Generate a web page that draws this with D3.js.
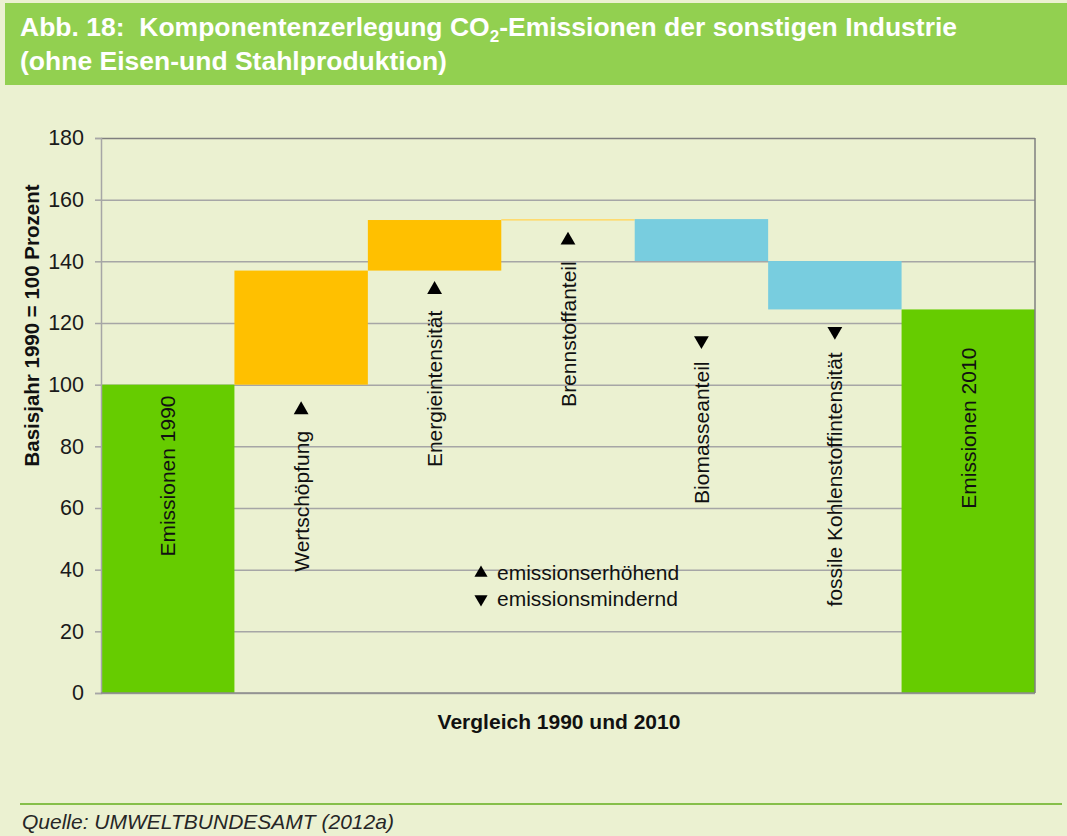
<!DOCTYPE html>
<html>
<head>
<meta charset="utf-8">
<script src="https://cdn.jsdelivr.net/npm/d3@7"></script>
<style>
  body { margin: 0; background: #ffffff; }
  svg { display: block; font-family: "Liberation Sans", Arial, sans-serif; }
</style>
</head>
<body>
<svg id="chart" width="1067" height="836"></svg>
<script>
// chart data
var categories = ["Emissionen 1990", "Wertschöpfung", "Energieintensität", "Brennstoffanteil",
                  "Biomasseanteil", "fossile Kohlenstoffintensität", "Emissionen 2010"];
// change per component (first and last are totals)
var changes = [100, 37, 16.4, 0.3, -13.6, -15.7, 124.4];
var kinds = ["total", "up", "up", "up", "down", "down", "total"];
// where the rotated label ends (top), in axis units
var labelTop = [96.5, 85, 124, 140, 107.5, 110.5, 112];
var yTicks = [0, 20, 40, 60, 80, 100, 120, 140, 160, 180];
var legendItems = [["up", "emissionserhöhend"], ["down", "emissionsmindernd"]];

var svg = d3.select("#chart"),
    width = +svg.attr("width"),
    height = +svg.attr("height");

var margin = {left: 101, right: 32, top: 138, bottom: 143};
var labelSize = 21;

// page background + title bar
svg.append("rect").attr("width", width).attr("height", height).attr("fill", "#ebf1d1");
svg.append("rect").attr("x", 5).attr("y", 3).attr("width", width - 5).attr("height", 82).attr("fill", "#92d050");

var title = svg.append("text").attr("fill", "#ffffff").attr("font-weight", "bold").attr("font-size", 26.5);
title.append("tspan").attr("x", 20).attr("y", 36).text("Abb. 18:\u00a0 Komponentenzerlegung CO");
title.append("tspan").attr("font-size", 17).attr("dy", 6).text("2");
title.append("tspan").attr("dy", -6).text("-Emissionen der sonstigen Industrie");
title.append("tspan").attr("x", 20).attr("y", 70).text("(ohne Eisen-und Stahlproduktion)");

// build waterfall rows
var running = 0;
var rows = categories.map(function(name, i) {
    var lo, hi;
    if (kinds[i] === "total") {
        lo = 0; hi = changes[i]; running = changes[i];
    } else {
        var next = running + changes[i];
        lo = Math.min(running, next); hi = Math.max(running, next);
        running = next;
    }
    return {name: name, lo: lo, hi: hi, kind: kinds[i], delta: changes[i], top: labelTop[i]};
});

var x = d3.scaleBand().domain(categories).range([margin.left, width - margin.right]).padding(0);
var y = d3.scaleLinear().domain([0, 180]).range([height - margin.bottom, margin.top]);

var colors = {total: "#66cc00", up: "#ffc000", down: "#78cddf"};

// gridlines
svg.append("g")
    .attr("transform", "translate(" + margin.left + ",0)")
    .call(d3.axisLeft(y).tickValues(yTicks).tickSize(-(width - margin.left - margin.right)).tickFormat(""))
    .call(function(g) {
        g.select(".domain").remove();
        g.selectAll("line").attr("stroke", "#a6a6a6").attr("stroke-width", 1.5);
        g.selectAll(".tick").filter(function(d) { return d === 180; }).select("line").attr("stroke", "#7f7f7f");
    });

// bars
svg.append("g").selectAll("rect").data(rows).enter().append("rect")
    .attr("x", function(d) { return x(d.name); })
    .attr("width", x.bandwidth())
    .attr("y", function(d) { return y(d.hi); })
    .attr("height", function(d) { return Math.max(1.5, y(d.lo) - y(d.hi)); })
    .attr("fill", function(d) { return Math.abs(d.delta) < 1 ? "#ffd966" : colors[d.kind]; });

// axis left
svg.append("g")
    .attr("transform", "translate(" + margin.left + ",0)")
    .call(d3.axisLeft(y).tickValues(yTicks).tickSize(6).tickPadding(11))
    .call(function(g) {
        g.select(".domain").attr("stroke", "#a6a6a6").attr("stroke-width", 1.5);
        g.selectAll("line").attr("stroke", "#a6a6a6").attr("stroke-width", 1.5);
        g.selectAll("text").attr("font-size", 21.5).attr("fill", "#1a1a1a")
            .attr("font-family", "Liberation Sans, Arial, sans-serif");
    });

// baseline and right border
svg.append("line").attr("x1", margin.left).attr("x2", width - margin.right)
    .attr("y1", y(0)).attr("y2", y(0)).attr("stroke", "#8c8c8c").attr("stroke-width", 1.5);
svg.append("line").attr("x1", width - margin.right).attr("x2", width - margin.right)
    .attr("y1", y(180)).attr("y2", y(0)).attr("stroke", "#7f7f7f").attr("stroke-width", 1.5);

// rotated category labels
svg.append("g").selectAll("text").data(rows).enter().append("text")
    .attr("transform", function(d) {
        return "translate(" + (x(d.name) + x.bandwidth() / 2 + labelSize * 0.36) + "," + y(d.top) + ") rotate(-90)";
    })
    .attr("text-anchor", "end")
    .attr("font-size", labelSize)
    .attr("fill", "#111")
    .text(function(d) { return d.name; });

// direction markers
var tri = d3.symbol().type(d3.symbolTriangle).size(95);
svg.append("g").selectAll("path").data(rows.filter(function(d) { return d.kind !== "total"; })).enter().append("path")
    .attr("d", tri)
    .attr("fill", "#000")
    .attr("transform", function(d) {
        return "translate(" + (x(d.name) + x.bandwidth() / 2) + "," + (y(d.top) - 21) + ")" +
            (d.kind === "down" ? " rotate(180)" : "");
    });

// legend
var legend = svg.append("g").selectAll("g").data(legendItems).enter().append("g")
    .attr("transform", function(d, i) { return "translate(481," + (573 + i * 26) + ")"; });
legend.append("path").attr("d", d3.symbol().type(d3.symbolTriangle).size(75)).attr("fill", "#000")
    .attr("transform", function(d) { return d[0] === "down" ? "rotate(180)" : ""; });
legend.append("text").attr("x", 16).attr("y", 7).attr("font-size", labelSize).attr("fill", "#111")
    .text(function(d) { return d[1]; });

// axis titles
svg.append("text")
    .attr("transform", "translate(39," + ((y(0) + y(180)) / 2 - 90) + ") rotate(-90)")
    .attr("text-anchor", "middle").attr("font-weight", "bold").attr("font-size", 20.5).attr("fill", "#111")
    .text("Basisjahr 1990 = 100 Prozent");
svg.append("text")
    .attr("x", 559).attr("y", 729)
    .attr("text-anchor", "middle").attr("font-weight", "bold").attr("font-size", 21).attr("fill", "#111")
    .text("Vergleich 1990 und 2010");

// footer
svg.append("line").attr("x1", 20).attr("x2", 1062).attr("y1", 804).attr("y2", 804)
    .attr("stroke", "#86bf4a").attr("stroke-width", 2);
svg.append("text").attr("x", 22).attr("y", 829).attr("font-style", "italic").attr("font-size", 21).attr("fill", "#262626")
    .text("Quelle: UMWELTBUNDESAMT (2012a)");
</script>
</body>
</html>
